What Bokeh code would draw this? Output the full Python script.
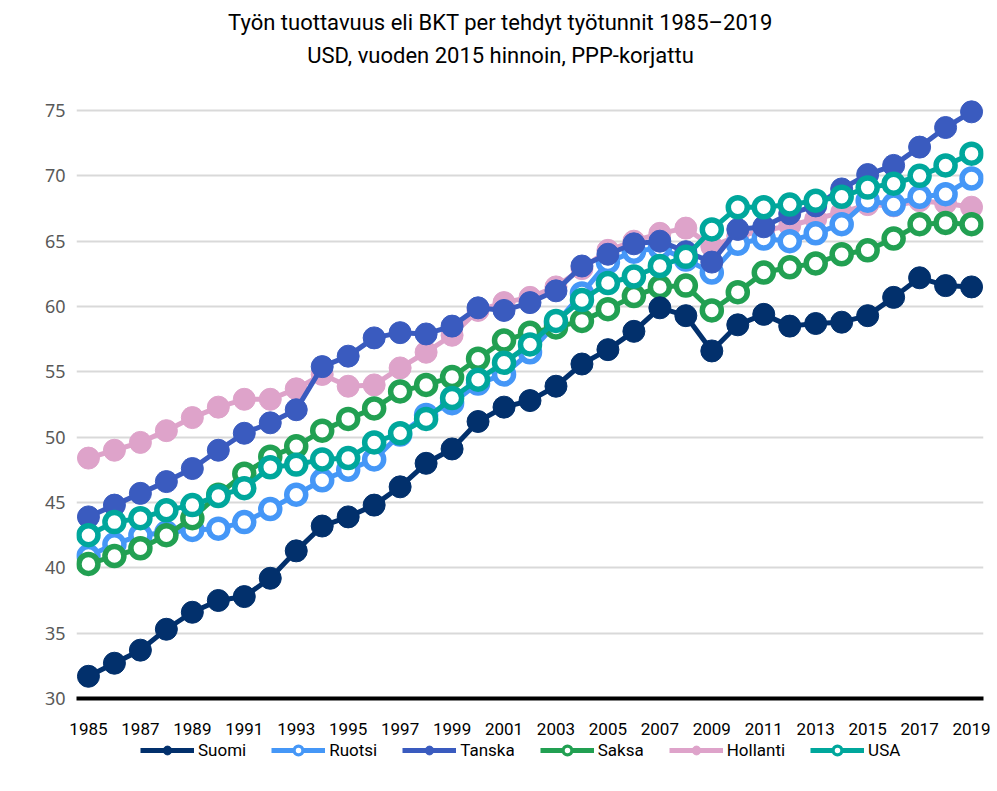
from bokeh.plotting import figure
from bokeh.layouts import column
from bokeh.models import (Legend, LegendItem, FixedTicker, Range1d,
                          ColumnDataSource)
from bokeh.core.properties import value
from bokeh.embed import file_html
from bokeh.resources import INLINE

title_lines = ["Työn tuottavuus eli BKT per tehdyt työtunnit 1985–2019",
               "USD, vuoden 2015 hinnoin, PPP-korjattu"]

years = list(range(1985, 2020))
tick_years = list(range(1985, 2020, 2))
y_ticks = [30, 35, 40, 45, 50, 55, 60, 65, 70, 75]

suomi = [31.7, 32.7, 33.7, 35.3, 36.6, 37.5, 37.8, 39.2, 41.3, 43.2,
         43.9, 44.8, 46.2, 48.0, 49.1, 51.2, 52.3, 52.8, 53.9, 55.6,
         56.7, 58.1, 59.9, 59.3, 56.6, 58.6, 59.4, 58.5, 58.7, 58.8,
         59.3, 60.7, 62.2, 61.6, 61.5]
ruotsi = [40.9, 41.8, 42.5, 42.7, 42.9, 43.0, 43.5, 44.5, 45.6, 46.7,
          47.5, 48.3, 50.2, 51.7, 52.6, 54.1, 54.8, 56.5, 58.7, 61.0,
          63.4, 64.2, 64.5, 63.6, 62.6, 64.8, 65.2, 65.0, 65.6, 66.3,
          68.1, 67.8, 68.4, 68.6, 69.8]
tanska = [43.9, 44.8, 45.7, 46.6, 47.6, 49.0, 50.3, 51.1, 52.1, 55.4,
          56.2, 57.6, 58.0, 57.9, 58.5, 59.9, 59.7, 60.3, 61.2, 63.1,
          64.0, 64.8, 65.0, 64.2, 63.4, 65.9, 66.1, 67.1, 67.7, 69.0,
          70.1, 70.8, 72.2, 73.7, 74.9]
saksa = [40.3, 40.9, 41.5, 42.5, 43.8, 45.6, 47.2, 48.5, 49.3, 50.5,
         51.4, 52.2, 53.5, 54.0, 54.6, 56.0, 57.4, 58.0, 58.4, 58.9,
         59.8, 60.8, 61.5, 61.6, 59.7, 61.1, 62.6, 63.0, 63.3, 64.0,
         64.3, 65.2, 66.3, 66.4, 66.3]
hollanti = [48.4, 49.0, 49.6, 50.5, 51.5, 52.3, 52.9, 52.9, 53.7, 54.8,
            53.9, 54.0, 55.3, 56.5, 57.8, 59.7, 60.3, 60.7, 61.5, 62.9,
            64.3, 65.0, 65.6, 66.0, 64.6, 65.4, 65.8, 66.2, 66.7, 67.2,
            67.8, 67.7, 68.1, 67.9, 67.6]
usa = [42.5, 43.5, 43.8, 44.4, 44.8, 45.5, 46.1, 47.7, 47.9, 48.3,
       48.4, 49.6, 50.3, 51.4, 53.0, 54.4, 55.7, 57.1, 58.9, 60.5,
       61.8, 62.3, 63.1, 63.8, 65.9, 67.6, 67.6, 67.8, 68.1, 68.4,
       69.1, 69.4, 70.0, 70.8, 71.7]

series_names = ["Suomi", "Ruotsi", "Tanska", "Saksa", "Hollanti", "USA"]
series_values = [suomi, ruotsi, tanska, saksa, hollanti, usa]
colors = ["#02306c", "#4597f7", "#3a5bbf", "#22a052", "#dea3ca", "#00a79c"]
hollow = [False, True, False, True, False, True]
draw_order = ["Hollanti", "Ruotsi", "Tanska", "Saksa", "USA", "Suomi"]

FONT = "Roboto"
LEFT, RIGHT, FW = 76, 12, 907


def add_series(fig, name, xs, ys, marker_scale=1.0):
    i = series_names.index(name)
    src = ColumnDataSource(dict(x=xs, y=ys))
    c = colors[i]
    lr = fig.line("x", "y", source=src, line_color=c, line_width=5)
    if hollow[i]:
        sr = fig.scatter("x", "y", source=src, marker="circle",
                         size=19 * marker_scale, fill_color="white",
                         line_color=c, line_width=5.5 * marker_scale)
    else:
        sr = fig.scatter("x", "y", source=src, marker="circle",
                         size=22 * marker_scale, fill_color=c, line_color=c,
                         line_width=1)
    return [lr, sr]


# ---- title block (same frame geometry as the chart; x in frame pixels) ----
tfig = figure(frame_width=FW, frame_height=95, output_backend="svg",
              toolbar_location=None,
              x_range=Range1d(0, FW), y_range=Range1d(0, 95),
              min_border_left=LEFT, min_border_right=RIGHT,
              min_border_top=0, min_border_bottom=0,
              x_axis_location=None, y_axis_location=None,
              outline_line_color=None)
tfig.grid.visible = False
tfig.text(x=[500 - LEFT, 500 - LEFT], y=[73, 40], text=title_lines,
          text_align="center", text_baseline="middle",
          text_font=value(FONT), text_font_size="22px", text_color="black")

# ---- main chart ----
p = figure(frame_width=FW, frame_height=603, output_backend="svg",
           toolbar_location=None,
           x_range=Range1d(1984.54, 2019.46), y_range=Range1d(30, 76.15),
           min_border_left=LEFT, min_border_right=RIGHT, min_border_top=0,
           min_border_bottom=42, outline_line_color=None)

for name in draw_order:
    add_series(p, name, years, series_values[series_names.index(name)])

p.xaxis.ticker = FixedTicker(ticks=tick_years)
p.xaxis.axis_line_color = "black"
p.xaxis.axis_line_width = 4
p.xaxis.major_tick_line_color = None
p.xaxis.minor_tick_line_color = None
p.xaxis.major_tick_out = 0
p.xaxis.major_tick_in = 0
p.xaxis.axis_label_standoff = 0
p.xaxis.major_label_standoff = 24
p.xaxis.major_label_text_font = FONT
p.xaxis.major_label_text_font_size = "17px"
p.xaxis.major_label_text_color = "black"

p.yaxis.ticker = FixedTicker(ticks=y_ticks)
p.yaxis.axis_line_color = None
p.yaxis.major_tick_line_color = None
p.yaxis.minor_tick_line_color = None
p.yaxis.major_tick_out = 0
p.yaxis.major_label_standoff = 11
p.yaxis.major_label_text_font = "Noto Sans"
p.yaxis.major_label_text_font_size = "18px"
p.yaxis.major_label_text_color = "#595959"

p.xgrid.grid_line_color = None
p.ygrid.ticker = FixedTicker(ticks=y_ticks[1:])
p.ygrid.grid_line_color = "#d9d9d9"
p.ygrid.grid_line_width = 2

# ---- legend block (sample glyphs lie outside its visible range) ----
lfig = figure(frame_width=FW, frame_height=40, output_backend="svg",
              toolbar_location=None,
              x_range=Range1d(0, 1), y_range=Range1d(0, 1),
              min_border_left=LEFT, min_border_right=RIGHT,
              min_border_top=0, min_border_bottom=0,
              x_axis_location=None, y_axis_location=None,
              outline_line_color=None)
lfig.grid.visible = False
items = []
for k, name in enumerate(series_names):
    rs = add_series(lfig, name, years[:2], series_values[k][:2],
                    marker_scale=0.6)
    items.append(LegendItem(label=name, renderers=rs))
legend = Legend(items=items, orientation="horizontal",
                location=(140 - LEFT, 19),
                glyph_width=54, glyph_height=22, label_standoff=4, spacing=25,
                label_width=0, label_height=0,
                label_text_font=FONT, label_text_font_size="17px",
                label_text_color="black", border_line_color=None,
                background_fill_alpha=0, padding=0, margin=0)
lfig.add_layout(legend, "center")

layout = column(tfig, p, lfig, spacing=0)
open("out.html", "w").write(file_html(layout, INLINE))
